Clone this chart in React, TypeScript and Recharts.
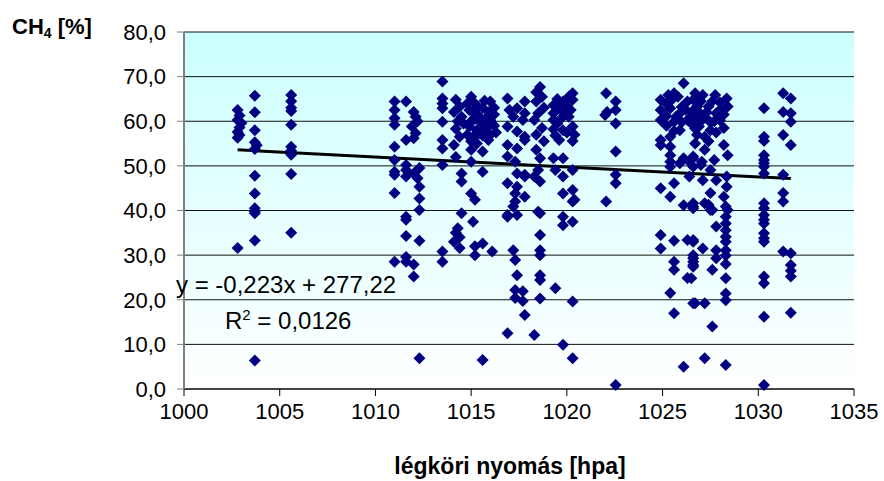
import React from 'react';
import { ScatterChart, Scatter, XAxis, YAxis, CartesianGrid, ReferenceLine } from 'recharts';

// CH4 [%] vs. légköri nyomás [hpa], grouped by pressure band
const band1003: number[][] = [
  [1002.8, 62.5], [1002.9, 61.3], [1002.8, 60.3], [1003.0, 59.6], [1002.9, 58.6], [1002.8, 57.6],
  [1002.9, 56.9], [1002.8, 56.3], [1002.8, 31.6],
  [1003.7, 65.7], [1003.7, 62.0], [1003.7, 58.0], [1003.7, 55.3], [1003.8, 54.6], [1003.7, 53.8],
  [1003.7, 47.8], [1003.7, 43.8], [1003.7, 40.5], [1003.7, 39.8], [1003.7, 39.4], [1003.7, 33.3], [1003.7, 6.4],
];

const band1005: number[][] = [
  [1005.6, 65.9], [1005.6, 64.5], [1005.6, 63.0], [1005.6, 62.3], [1005.6, 59.2], [1005.6, 54.3],
  [1005.6, 53.4], [1005.6, 52.5], [1005.6, 48.2], [1005.6, 35.0],
];

const band1011: number[][] = [
  [1011.0, 64.4], [1011.0, 62.5], [1011.0, 60.7], [1011.0, 59.2], [1011.0, 54.3], [1011.0, 51.3],
  [1011.0, 48.7], [1011.0, 48.0], [1011.0, 43.9], [1011.0, 28.5],
  [1011.6, 64.4], [1011.6, 55.8], [1011.6, 50.2], [1011.6, 49.1], [1011.6, 47.6], [1011.6, 38.6],
  [1011.6, 37.9], [1011.6, 34.3], [1011.6, 29.6], [1011.6, 28.5],
  [1012.0, 62.1], [1012.1, 61.0], [1012.2, 60.0], [1011.9, 58.8], [1012.1, 57.3], [1012.0, 56.2],
  [1012.3, 49.5], [1012.0, 48.3], [1012.2, 47.2], [1012.3, 45.3], [1012.3, 42.7], [1012.3, 40.1],
  [1012.3, 33.2], [1012.0, 27.9], [1012.0, 25.2], [1012.3, 6.9],
];

const band1014: number[][] = [
  [1013.5, 68.9], [1013.5, 65.1], [1013.5, 64.0], [1013.5, 62.9], [1013.5, 59.9], [1013.5, 55.8],
  [1013.5, 53.9], [1013.5, 50.2], [1013.5, 30.8], [1013.5, 28.5],
  [1014.2, 64.8], [1014.4, 63.3], [1014.1, 62.1], [1014.5, 61.0], [1014.3, 60.0], [1014.6, 59.5],
  [1014.2, 58.3], [1014.4, 56.5], [1014.1, 54.7], [1014.2, 52.0], [1014.5, 48.3], [1014.5, 46.5],
  [1014.5, 39.4], [1014.3, 36.0], [1014.2, 35.0], [1014.4, 34.0], [1014.1, 33.0], [1014.4, 31.6],
];

const band1015: number[][] = [
  [1015.0, 65.5], [1015.2, 64.0], [1015.6, 63.0], [1016.0, 64.4], [1016.2, 63.0], [1015.1, 62.0],
  [1015.4, 61.2], [1015.8, 60.8], [1016.2, 61.5], [1015.0, 60.0], [1015.5, 59.8], [1016.1, 59.5],
  [1015.3, 58.0], [1015.8, 58.5], [1016.3, 57.5], [1015.1, 56.5], [1015.6, 56.8], [1015.0, 55.5],
  [1015.0, 53.6], [1015.6, 53.2], [1015.0, 50.9], [1015.6, 48.7], [1015.0, 43.8], [1015.2, 42.4],
  [1015.1, 37.5], [1015.2, 32.0], [1015.2, 30.0], [1015.6, 32.6], [1016.1, 30.8], [1015.6, 6.5],
  [1014.8, 64.0], [1014.9, 62.5], [1015.3, 62.9], [1015.7, 64.6], [1015.9, 62.0], [1016.0, 60.2],
  [1015.2, 60.5], [1014.9, 58.8], [1015.6, 58.0], [1016.0, 57.0], [1015.4, 57.2], [1014.8, 57.0],
  [1015.9, 55.8], [1015.3, 55.0], [1016.2, 59.0],
];

const band1017: number[][] = [
  [1016.9, 65.1], [1017.8, 64.4], [1017.0, 62.5], [1017.4, 62.9], [1017.2, 61.0], [1017.7, 60.3],
  [1016.9, 58.8], [1017.4, 57.7], [1017.8, 55.8], [1016.9, 54.7], [1017.4, 53.9], [1016.9, 52.1],
  [1017.3, 50.9], [1017.4, 48.3], [1017.8, 47.6], [1016.9, 46.1], [1017.4, 45.3], [1017.3, 43.8],
  [1017.8, 43.1], [1017.3, 42.0], [1017.2, 40.9], [1016.9, 39.0], [1017.4, 39.0], [1016.9, 38.6],
  [1017.2, 31.1], [1017.3, 28.9], [1017.4, 25.5], [1017.3, 22.2], [1017.7, 21.9], [1017.3, 20.4],
  [1017.7, 19.7], [1017.8, 16.6], [1016.9, 12.5], [1017.8, 61.8], [1017.8, 56.5], [1017.8, 48.0],
];

const band1018: number[][] = [
  [1018.6, 67.7], [1018.4, 66.5], [1018.7, 65.5], [1018.4, 64.4], [1018.8, 63.0], [1018.5, 61.8],
  [1018.3, 60.3], [1018.7, 58.5], [1018.4, 57.0], [1018.8, 55.5], [1018.4, 53.6], [1018.6, 51.7],
  [1018.5, 49.1], [1018.3, 47.6], [1018.6, 46.5], [1018.5, 39.7], [1018.6, 39.4], [1018.6, 34.5],
  [1018.6, 31.1], [1018.6, 30.0], [1018.6, 25.5], [1018.6, 24.4], [1018.6, 20.3], [1018.3, 12.1],
];

const band1020: number[][] = [
  [1019.3, 63.6], [1019.8, 64.4], [1020.3, 66.3], [1020.3, 64.8], [1019.3, 61.8], [1019.8, 62.1],
  [1020.2, 62.5], [1019.3, 60.3], [1019.7, 60.6], [1020.3, 58.8], [1019.3, 58.2], [1019.8, 58.0],
  [1020.4, 57.0], [1019.4, 56.8], [1020.3, 55.6], [1019.3, 51.7], [1019.8, 51.7], [1019.4, 49.1],
  [1020.3, 49.1], [1019.8, 47.6], [1019.8, 43.8], [1020.3, 44.6], [1020.4, 42.4], [1019.8, 38.6],
  [1019.4, 22.6], [1019.8, 36.7], [1020.3, 37.5], [1020.3, 42.0], [1020.3, 19.6], [1019.8, 9.9], [1020.3, 6.9],
  [1019.5, 65.0], [1020.0, 63.5], [1019.6, 63.0], [1020.1, 61.0], [1019.5, 59.5], [1020.0, 57.5],
  [1019.6, 55.8], [1020.1, 65.5],
];

const band1022: number[][] = [
  [1022.05, 66.3], [1022.1, 62.1], [1022.0, 61.4], [1022.05, 42.0], [1022.55, 64.4], [1022.55, 62.5],
  [1022.55, 59.5], [1022.55, 53.2], [1022.55, 48.0], [1022.55, 46.1], [1022.55, 0.9],
];

const band1026: number[][] = [
  [1026.1, 68.5], [1025.6, 66.3], [1026.7, 66.3], [1024.9, 64.8], [1025.8, 65.5], [1026.3, 64.4],
  [1024.9, 62.5], [1025.4, 62.9], [1025.9, 61.8], [1026.8, 63.3], [1024.9, 60.3], [1025.6, 59.9],
  [1026.3, 60.3], [1026.7, 58.4], [1025.9, 58.0], [1025.4, 56.5], [1024.9, 55.8], [1024.9, 54.7],
  [1025.4, 54.3], [1025.4, 52.4], [1025.4, 50.9], [1026.1, 51.7], [1026.6, 51.7], [1025.9, 50.6],
  [1026.4, 50.9], [1027.0, 50.2], [1025.4, 49.8], [1026.4, 47.6], [1024.9, 45.0], [1025.6, 46.1],
  [1025.4, 43.1], [1026.1, 41.2], [1026.6, 40.5],
  [1024.9, 34.5], [1024.9, 31.5], [1025.6, 33.2], [1026.3, 33.4], [1026.6, 33.0], [1025.6, 28.5],
  [1025.6, 26.7], [1026.3, 24.9], [1026.6, 30.0], [1026.6, 28.5], [1026.6, 27.4], [1025.4, 21.5],
  [1025.6, 17.0], [1026.6, 19.2], [1026.1, 5.0],
  [1025.2, 64.0], [1025.5, 64.9], [1026.0, 63.2], [1026.5, 62.0], [1025.2, 61.2], [1025.7, 61.0],
  [1026.2, 62.6], [1026.0, 59.8], [1025.2, 59.0], [1026.5, 59.5], [1025.6, 57.8], [1026.8, 61.0],
  [1026.9, 65.0], [1025.3, 65.9],
];

const band1028: number[][] = [
  [1027.1, 65.9], [1027.75, 65.9], [1028.35, 65.1], [1026.6, 64.8], [1026.8, 63.3], [1027.4, 63.3],
  [1028.4, 63.3], [1028.0, 62.5], [1026.5, 60.7], [1027.2, 61.0], [1027.7, 60.0], [1026.9, 58.8],
  [1027.5, 58.0], [1028.2, 58.5], [1027.2, 56.5], [1028.2, 54.7], [1027.2, 53.6], [1028.4, 52.4],
  [1026.6, 52.1], [1027.7, 51.3], [1027.05, 50.9], [1026.6, 49.8], [1027.5, 49.1], [1027.8, 46.8],
  [1028.35, 47.6], [1027.1, 46.8], [1028.35, 45.3], [1027.5, 43.9], [1028.2, 43.1], [1026.6, 41.6],
  [1027.2, 41.6], [1027.5, 40.1], [1028.4, 40.1],
  [1026.6, 40.9], [1027.4, 41.3], [1027.6, 40.1], [1027.8, 36.4], [1026.6, 33.4], [1027.1, 31.5],
  [1027.8, 31.1], [1027.8, 29.3], [1026.6, 29.3], [1026.6, 27.8], [1027.6, 26.7], [1026.5, 24.8],
  [1026.7, 19.2], [1027.2, 19.2], [1027.6, 14.0], [1027.2, 6.9], [1028.3, 5.4],
  [1028.3, 40.9], [1028.3, 38.6], [1028.3, 37.1], [1028.3, 35.6], [1028.3, 34.1], [1028.3, 33.0],
  [1028.3, 31.1], [1028.3, 29.9], [1028.3, 28.0], [1028.3, 24.8], [1028.3, 21.4], [1028.3, 19.9],
  [1027.0, 64.5], [1027.6, 64.5], [1028.0, 64.2], [1026.9, 62.0], [1027.3, 62.0], [1027.8, 61.8],
  [1028.2, 61.5], [1027.0, 60.0], [1027.5, 59.8], [1028.0, 60.2], [1026.8, 57.0], [1027.8, 57.5],
  [1027.4, 55.5], [1026.7, 55.0],
];

const band1030: number[][] = [
  [1030.3, 62.9], [1030.3, 56.5], [1030.3, 55.6], [1030.3, 52.4], [1030.3, 51.3], [1030.3, 50.6],
  [1030.3, 49.8], [1030.3, 48.3], [1030.3, 41.6], [1030.3, 40.5], [1030.3, 39.0], [1030.3, 37.9],
  [1030.3, 37.1], [1030.3, 34.9], [1030.3, 33.8], [1030.3, 33.0], [1030.3, 25.2], [1030.3, 23.7],
  [1030.3, 16.2], [1030.3, 0.9],
  [1031.3, 66.3], [1031.7, 65.1], [1031.3, 62.1], [1031.7, 61.8], [1031.7, 59.9], [1031.3, 56.9],
  [1031.7, 54.7], [1031.3, 48.0], [1031.3, 43.9], [1031.3, 42.0], [1031.3, 30.8], [1031.7, 30.4],
  [1031.7, 27.8], [1031.7, 26.5], [1031.7, 25.2], [1031.7, 17.1],
];

const xTicks = [1000, 1005, 1010, 1015, 1020, 1025, 1030, 1035];
const yTicks = [0, 10, 20, 30, 40, 50, 60, 70, 80];

// linear trend given on the chart
const slope = -0.223;
const intercept = 277.22;

const points = [
  ...band1003, ...band1005, ...band1011, ...band1014, ...band1015, ...band1017,
  ...band1018, ...band1020, ...band1022, ...band1026, ...band1028, ...band1030,
].map(([x, y]) => ({ x, y }));

const xMin = Math.min(...points.map(p => p.x));
const xMax = Math.max(...points.map(p => p.x));

const font = '"Liberation Sans", Arial, sans-serif';

const Diamond = (props: any) => {
  const { cx, cy } = props;
  const r = 6;
  return (
    <polygon
      points={`${cx},${cy - r} ${cx + r},${cy} ${cx},${cy + r} ${cx - r},${cy}`}
      fill="#000080"
    />
  );
};

const fmt = (v: number) => v.toFixed(1).replace('.', ',');

export default function App() {
  return (
    <div style={{ position: 'absolute', left: 0, top: 0, width: 884, height: 481, background: '#fff', fontFamily: font }}>
      <ScatterChart width={884} height={481} margin={{ top: 32, right: 30, bottom: 0, left: 0 }}>
        <defs>
          <linearGradient id="plotBg" x1="0" y1="0" x2="0" y2="1">
            <stop offset="0%" stopColor="#CCFFFF" />
            <stop offset="100%" stopColor="#FFFFFF" />
          </linearGradient>
        </defs>
        <CartesianGrid vertical={false} stroke="#111" strokeOpacity={1} fill="url(#plotBg)" fillOpacity={1} />
        <XAxis
          type="number"
          dataKey="x"
          domain={[1000, 1035]}
          ticks={xTicks}
          height={92}
          tickSize={7}
          tickMargin={7}
          stroke="#000"
          tick={{ fill: '#000', fontSize: 22, fontFamily: font }}
          allowDataOverflow
        />
        <YAxis
          type="number"
          dataKey="y"
          domain={[0, 80]}
          ticks={yTicks}
          width={184}
          tickSize={7}
          tickMargin={11}
          tickFormatter={fmt}
          stroke="#808080"
          axisLine={{ stroke: '#808080', strokeWidth: 2 }}
          tick={{ fill: '#000', fontSize: 22, fontFamily: font }}
        />
        <Scatter data={points} shape={<Diamond />} isAnimationActive={false} />
        <ReferenceLine
          segment={[
            { x: xMin, y: slope * xMin + intercept },
            { x: xMax, y: slope * xMax + intercept },
          ]}
          stroke="#000"
          strokeWidth={3}
          ifOverflow="visible"
        />
      </ScatterChart>
      <div style={{ position: 'absolute', left: 12, top: 14, fontSize: 22, fontWeight: 'bold', color: '#000', whiteSpace: 'nowrap' }}>
        CH<sub style={{ fontSize: 14, verticalAlign: -4 }}>4</sub> [%]
      </div>
      <div style={{ position: 'absolute', left: 176, top: 271, fontSize: 24, color: '#000', whiteSpace: 'nowrap' }}>
        y = -0,223x + 277,22
      </div>
      <div style={{ position: 'absolute', left: 225, top: 306, fontSize: 24, color: '#000', whiteSpace: 'nowrap' }}>
        R<sup style={{ fontSize: 15, verticalAlign: 9 }}>2</sup> = 0,0126
      </div>
      <div style={{ position: 'absolute', left: 0, width: 1020, top: 453, textAlign: 'center', fontSize: 23, fontWeight: 'bold', color: '#000', whiteSpace: 'nowrap' }}>
        légköri nyomás [hpa]
      </div>
    </div>
  );
}
